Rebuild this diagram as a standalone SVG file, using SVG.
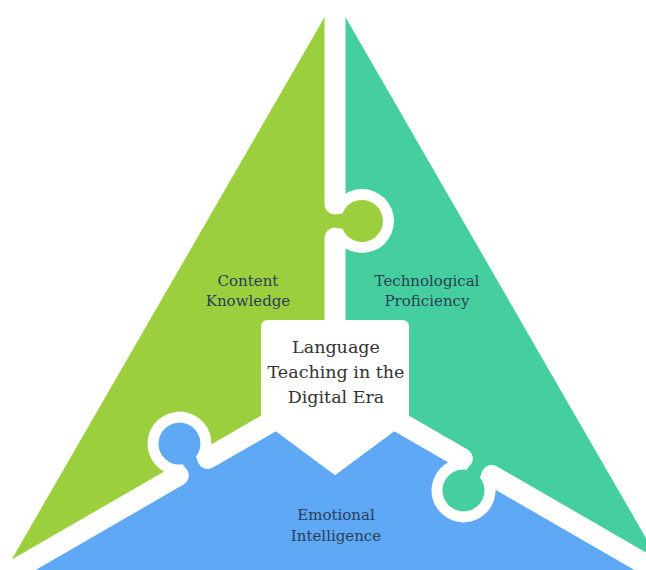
<svg xmlns="http://www.w3.org/2000/svg" width="646" height="570" viewBox="0 0 646 570">
  <style>
    .gap { stroke: #ffffff; stroke-width: 21; stroke-linecap: round; fill: none; }
    .ring { fill: #ffffff; }
    .label { font-family: "DejaVu Serif", "Liberation Serif", serif; font-size: 15px; fill: #2b3d57; text-anchor: middle; }
    .title { font-family: "DejaVu Serif", "Liberation Serif", serif; font-size: 17.5px; fill: #333333; text-anchor: middle; }
  </style>
  <defs>
    <!-- puzzle tab: round knob plus the neck that ties it to its own piece -->
    <path id="keyhole" d="M318,213.5 H342.4 A21,21 0 1 1 342.4,228.5 H318 Z"/>
  </defs>

  <rect width="646" height="570" fill="#ffffff"/>

  <g id="piece-content">
    <polygon points="335,385 335,-1 1,578" fill="#9bcf3e"/>
    <text class="label" x="248" y="285.5">Content</text>
    <text class="label" x="248" y="305.5">Knowledge</text>
  </g>

  <g id="piece-technology">
    <polygon points="335,385 335,-1 669,578" fill="#45cf9f"/>
    <text class="label" x="427" y="285.5">Technological</text>
    <text class="label" x="427" y="305.5">Proficiency</text>
  </g>

  <g id="piece-emotional">
    <polygon points="335,385 1,578 669,578" fill="#5ea8f6"/>
    <text class="label" x="336" y="520">Emotional</text>
    <text class="label" x="336" y="541">Intelligence</text>
  </g>

  <!-- white seams between the pieces, each with an interlocking tab -->
  <g id="seams">
    <g id="seam-top">
      <circle class="ring" cx="362" cy="221" r="32"/>
      <use href="#keyhole" fill="#9bcf3e"/>
      <path class="gap" d="M335,-60 V204 M335,238 V385"/>
    </g>
    <g id="seam-right" transform="rotate(120 335 385)">
      <circle class="ring" cx="362" cy="221" r="32"/>
      <use href="#keyhole" fill="#45cf9f"/>
      <path class="gap" d="M335,-60 V204 M335,238 V385"/>
    </g>
    <g id="seam-left" transform="rotate(240 335 385)">
      <circle class="ring" cx="362" cy="221" r="32"/>
      <use href="#keyhole" fill="#5ea8f6"/>
      <path class="gap" d="M335,-60 V204 M335,238 V385"/>
    </g>
  </g>

  <g id="center-hub">
    <path d="M269,321 H402 Q408,321 408,327 V416 L393,431 L335,474 L277,431 L262,416 V327 Q262,321 268,321 Z"
          fill="#ffffff" stroke="#ffffff" stroke-width="2" stroke-linejoin="round"/>
    <text class="title" x="336" y="352.5">Language</text>
    <text class="title" x="336" y="378">Teaching in the</text>
    <text class="title" x="336" y="403">Digital Era</text>
  </g>
</svg>
